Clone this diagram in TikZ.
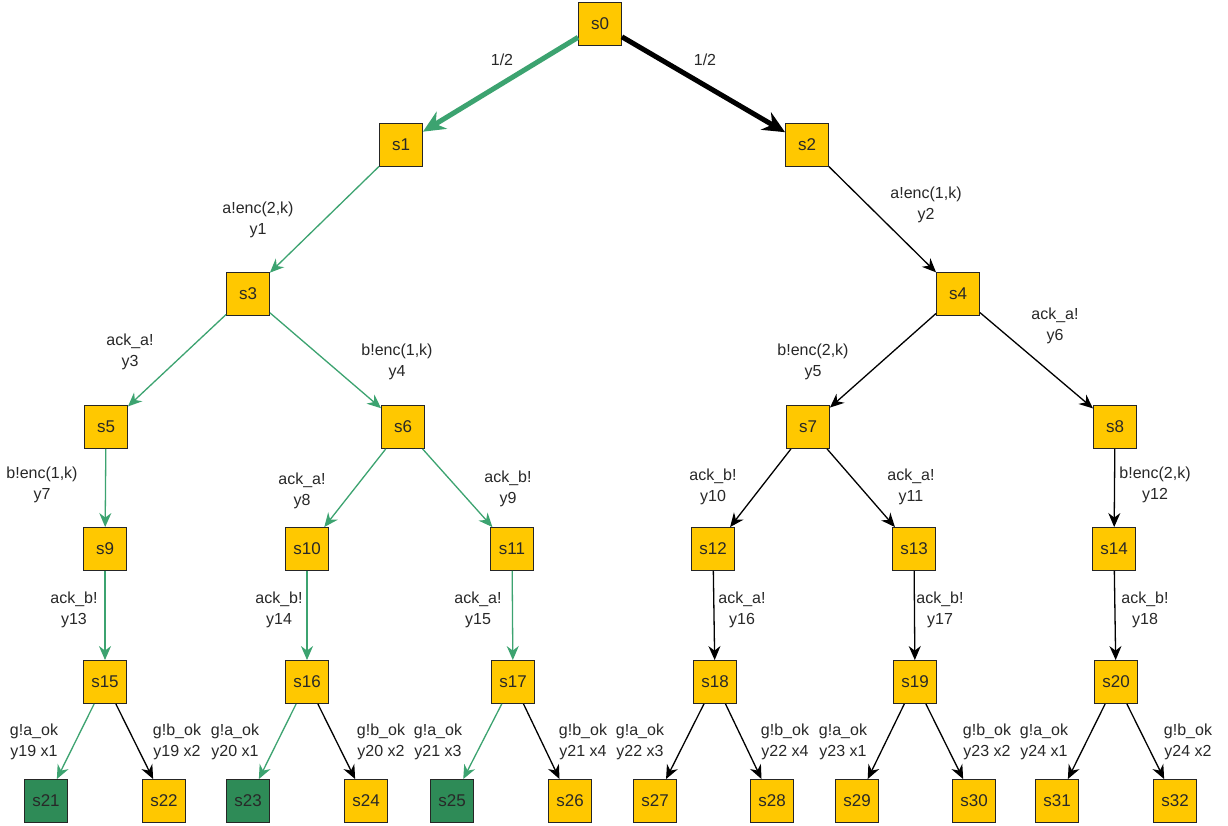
\documentclass[tikz,border=0pt]{standalone}
\usepackage{fontspec}
\setmainfont{Liberation Sans}
\usetikzlibrary{arrows.meta}
\definecolor{boxy}{RGB}{255,200,0}
\definecolor{leafg}{RGB}{46,139,87}
\definecolor{edgeg}{RGB}{60,163,112}
\definecolor{txt}{RGB}{40,40,40}
\begin{document}
\begin{tikzpicture}[x=1pt,y=-1pt,
  st/.style={draw=black!85,line width=0.9pt,fill=boxy,minimum width=43pt,minimum height=43pt,inner sep=0pt,
    font=\fontsize{17}{19}\selectfont,text=txt},
  leaf/.style={st,fill=leafg},
  ge/.style={draw=edgeg,line width=1.3pt,-{Stealth[length=14pt,width=12pt]}},
  be/.style={draw=black,line width=1.3pt,-{Stealth[length=14pt,width=12pt]}},
  thick edge/.style={line width=5pt,-{Stealth[length=22pt,width=20pt]}},
  lbl/.style={font=\fontsize{16}{20.5}\selectfont,text=txt,align=center,inner sep=0pt}]
\useasboundingbox (0,0) rectangle (1228,825);
\fill[white] (0,0) rectangle (1228,825);
% nodes
\node[st] (s0) at (600,24) {s0};
\node[st] (s1) at (401,145) {s1};
\node[st] (s2) at (807,145) {s2};
\node[st] (s3) at (248,294) {s3};
\node[st] (s4) at (958,294) {s4};
\node[st] (s5) at (106,427) {s5};
\node[st] (s6) at (403,427) {s6};
\node[st] (s7) at (808,427) {s7};
\node[st] (s8) at (1115,427) {s8};
\node[st] (s9) at (105,549) {s9};
\node[st] (s10) at (307,549) {s10};
\node[st] (s11) at (512,549) {s11};
\node[st] (s12) at (713,549) {s12};
\node[st] (s13) at (914,549) {s13};
\node[st] (s14) at (1114,549) {s14};
\node[st] (s15) at (105,682) {s15};
\node[st] (s16) at (307,682) {s16};
\node[st] (s17) at (513,682) {s17};
\node[st] (s18) at (715,682) {s18};
\node[st] (s19) at (915,682) {s19};
\node[st] (s20) at (1116,682) {s20};
\node[leaf] (s21) at (46,801) {s21};
\node[st] (s22) at (164,801) {s22};
\node[leaf] (s23) at (248,801) {s23};
\node[st] (s24) at (366,801) {s24};
\node[leaf] (s25) at (452,801) {s25};
\node[st] (s26) at (570,801) {s26};
\node[st] (s27) at (655,801) {s27};
\node[st] (s28) at (772,801) {s28};
\node[st] (s29) at (857,801) {s29};
\node[st] (s30) at (974,801) {s30};
\node[st] (s31) at (1057,801) {s31};
\node[st] (s32) at (1175,801) {s32};
% edges
\draw[ge,thick edge] (s0) -- (s1) node[lbl] at (502,60) {1/2};
\draw[be,thick edge] (s0) -- (s2) node[lbl] at (705,60) {1/2};
\draw[ge] (s1) -- (s3) node[lbl] at (258,220) {a!enc(2,k)\\y1};
\draw[be] (s2) -- (s4) node[lbl] at (926,205) {a!enc(1,k)\\y2};
\draw[ge] (s3) -- (s5) node[lbl] at (130,352) {ack\_a!\\y3};
\draw[ge] (s3) -- (s6) node[lbl] at (397,362) {b!enc(1,k)\\y4};
\draw[be] (s4) -- (s7) node[lbl] at (813,362) {b!enc(2,k)\\y5};
\draw[be] (s4) -- (s8) node[lbl] at (1055,326) {ack\_a!\\y6};
\draw[ge] (s5) -- (s9) node[lbl] at (42,485) {b!enc(1,k)\\y7};
\draw[ge] (s6) -- (s10) node[lbl] at (302,491) {ack\_a!\\y8};
\draw[ge] (s6) -- (s11) node[lbl] at (508,489) {ack\_b!\\y9};
\draw[be] (s7) -- (s12) node[lbl] at (713,487) {ack\_b!\\y10};
\draw[be] (s7) -- (s13) node[lbl] at (911,487) {ack\_a!\\y11};
\draw[be] (s8) -- (s14) node[lbl] at (1155,485) {b!enc(2,k)\\y12};
\draw[ge] (s9) -- (s15) node[lbl] at (74,610) {ack\_b!\\y13};
\draw[ge] (s10) -- (s16) node[lbl] at (279,610) {ack\_b!\\y14};
\draw[ge] (s11) -- (s17) node[lbl] at (478,610) {ack\_a!\\y15};
\draw[be] (s12) -- (s18) node[lbl] at (742,610) {ack\_a!\\y16};
\draw[be] (s13) -- (s19) node[lbl] at (940,610) {ack\_b!\\y17};
\draw[be] (s14) -- (s20) node[lbl] at (1145,610) {ack\_b!\\y18};
\draw[ge] (s15) -- (s21) node[lbl] at (34,742) {g!a\_ok\\y19 x1};
\draw[be] (s15) -- (s22) node[lbl] at (177,742) {g!b\_ok\\y19 x2};
\draw[ge] (s16) -- (s23) node[lbl] at (235,742) {g!a\_ok\\y20 x1};
\draw[be] (s16) -- (s24) node[lbl] at (381,742) {g!b\_ok\\y20 x2};
\draw[ge] (s17) -- (s25) node[lbl] at (438,742) {g!a\_ok\\y21 x3};
\draw[be] (s17) -- (s26) node[lbl] at (583,742) {g!b\_ok\\y21 x4};
\draw[be] (s18) -- (s27) node[lbl] at (640,742) {g!a\_ok\\y22 x3};
\draw[be] (s18) -- (s28) node[lbl] at (785,742) {g!b\_ok\\y22 x4};
\draw[be] (s19) -- (s29) node[lbl] at (843,742) {g!a\_ok\\y23 x1};
\draw[be] (s19) -- (s30) node[lbl] at (987,742) {g!b\_ok\\y23 x2};
\draw[be] (s20) -- (s31) node[lbl] at (1044,742) {g!a\_ok\\y24 x1};
\draw[be] (s20) -- (s32) node[lbl] at (1188,742) {g!b\_ok\\y24 x2};
\end{tikzpicture}
\end{document}
